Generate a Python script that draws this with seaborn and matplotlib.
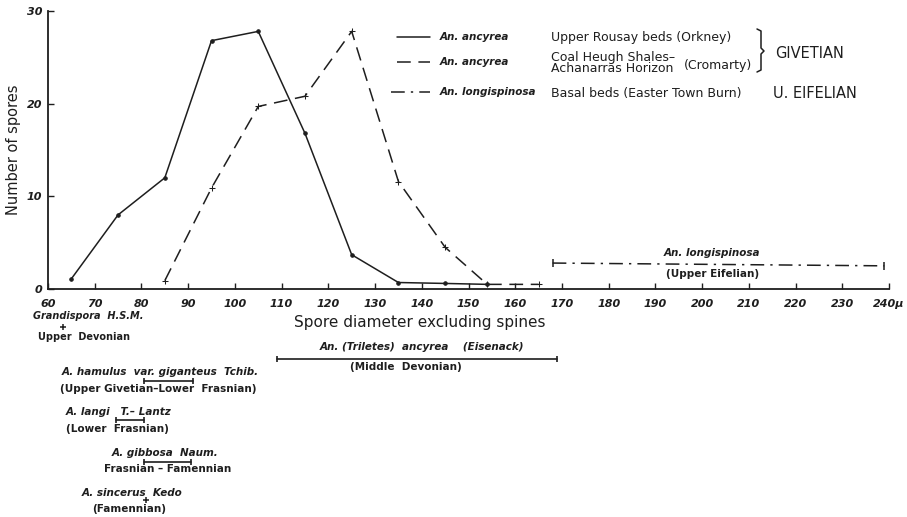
import numpy as np
import pandas as pd
import seaborn as sns
import matplotlib.pyplot as plt
from matplotlib.transforms import ScaledTranslation

# spore diameter (microns) and counts
rousay_x = [65, 75, 85, 95, 105, 115, 125, 135, 145, 154]
rousay_n = [1.1, 8, 12, 26.8, 27.8, 16.8, 3.7, 0.7, 0.6, 0.5]

cromarty_x = [85, 95, 105, 115, 125, 135, 145, 154, 165]
cromarty_n = [0.9, 10.9, 19.7, 20.8, 27.8, 11.6, 4.5, 0.5, 0.5]

longi_x = [168, 239]
longi_n = [2.8, 2.5]

x_ticks = list(range(60, 250, 10))
x_labels = [str(t) for t in x_ticks[:-1]] + ['240μ']
y_ticks = [0, 10, 20, 30]

# size ranges of other species shown below the axis
range_lo = [109, 80.5, 74.5, 80.5]
range_hi = [169, 91, 80.5, 90.5]
range_py = [359, 381, 420, 462]
point_x = [63.2, 81]
point_py = [327, 500]

INK = '#1e1e1e'
W, H = 907, 517


def fx(px):
    return px / W


def fy(py):
    return 1 - py / H


def ay(py):
    # pixel row -> axes fraction
    return (289 - py) / 278


sns.set_style("ticks")
plt.rcParams['font.family'] = ['DejaVu Sans']

fig = plt.figure(figsize=(9.07, 5.17), dpi=100)
ax = fig.add_axes([48 / W, 1 - 289 / H, 841 / W, 278 / H])

df1 = pd.DataFrame({"d": rousay_x, "n": rousay_n})
df2 = pd.DataFrame({"d": cromarty_x, "n": cromarty_n})
df3 = pd.DataFrame({"d": longi_x, "n": longi_n})

sns.lineplot(data=df1, x="d", y="n", ax=ax, color=INK, lw=1.1,
             marker='o', ms=2.5, mec=INK, estimator=None)
sns.lineplot(data=df2, x="d", y="n", ax=ax, color=INK, lw=1.1,
             marker='+', ms=4, mec=INK, estimator=None)
ax.lines[-1].set_dashes([9, 5])
sns.lineplot(data=df3, x="d", y="n", ax=ax, color=INK, lw=1.1,
             estimator=None)
ax.lines[-1].set_dashes([9, 4, 1.5, 4])
ax.plot(longi_x, longi_n, ls='none', marker='|', ms=6, mew=1.1, color=INK)

ax.set_xlim(60, 240)
ax.set_ylim(0, 30)
ax.set_xticks(x_ticks)
ax.set_yticks(y_ticks)
ax.set_xticklabels(x_labels, fontsize=8, style='italic', weight='bold',
                   color=INK)
ax.set_yticklabels([str(t) for t in y_ticks], fontsize=8, style='italic',
                   weight='bold', color=INK)
last = ax.get_xticklabels()[-1]
last.set_transform(last.get_transform() +
                   ScaledTranslation(0.04, 0, fig.dpi_scale_trans))
ax.tick_params(axis='x', direction='in', length=4, width=1, color=INK, pad=7)
ax.tick_params(axis='y', direction='in', length=4, width=1, color=INK, pad=4)
for s in ['top', 'right']:
    ax.spines[s].set_visible(False)
for s in ['left', 'bottom']:
    ax.spines[s].set_color(INK)
    ax.spines[s].set_linewidth(1.3)
ax.set_xlabel('')
ax.set_ylabel('Number of spores', fontsize=10.5, color=INK)
ax.yaxis.set_label_coords(-27 / 841, 0.5)

ax.text(139.5, ay(323), 'Spore diameter excluding spines', fontsize=11,
        color=INK, ha='center', va='center',
        transform=ax.get_xaxis_transform())

# legend
leg_rows = [37, 62, 92]
leg_left = [397, 397, 391]
leg_dash = [None, [9, 5], [9, 4, 1.5, 4]]
leg_names = ['An. ancyrea', 'An. ancyrea', 'An. longispinosa']
for py, x0, ds, name in zip(leg_rows, leg_left, leg_dash, leg_names):
    ln, = ax.plot([fx(x0), fx(430)], [fy(py), fy(py)], color=INK, lw=1.1,
                  transform=fig.transFigure, clip_on=False)
    if ds:
        ln.set_dashes(ds)
    fig.text(fx(440), fy(py), name, fontsize=7.5, style='italic',
             weight='bold', color=INK, va='center')

loc = dict(fontsize=9, color=INK, va='center')
fig.text(fx(551), fy(37), 'Upper Rousay beds (Orkney)', **loc)
fig.text(fx(551), fy(57), 'Coal Heugh Shales–', **loc)
fig.text(fx(551), fy(69), 'Achanarras Horizon', **loc)
fig.text(fx(684), fy(65), '(Cromarty)', **loc)
fig.text(fx(551), fy(93), 'Basal beds (Easter Town Burn)', **loc)
fig.text(fx(775), fy(53), 'GIVETIAN', fontsize=10.5, color=INK, va='center')
fig.text(fx(773), fy(93), 'U. EIFELIAN', fontsize=10.5, color=INK,
         va='center')
bx = [757, 761, 761, 764, 761, 761, 757]
by = [29, 31, 48, 51, 54, 70, 72]
ax.plot([fx(v) for v in bx], [fy(v) for v in by], color=INK, lw=1.1,
        transform=fig.transFigure, clip_on=False)

# longispinosa labels inside axes
fig.text(fx(712), fy(253), 'An. longispinosa', fontsize=7.5, style='italic',
         weight='bold', color=INK, ha='center', va='center')
fig.text(fx(713), fy(274), '(Upper Eifelian)', fontsize=7.5, weight='bold',
         color=INK, ha='center', va='center')

# range bars below the axis
xt = ax.get_xaxis_transform()
for lo, hi, py in zip(range_lo, range_hi, range_py):
    ax.plot([lo, hi], [ay(py), ay(py)], color=INK, lw=1.2, marker='|',
            ms=5, mew=1.2, transform=xt, clip_on=False)
for x, py in zip(point_x, point_py):
    ax.plot([x], [ay(py)], color=INK, marker='+', ms=4, mew=1.1,
            transform=xt, clip_on=False)

notes = [
    (33, 316, 'left', 'Grandispora  H.S.M.', 'italic', 7),
    (38, 337, 'left', 'Upper  Devonian', 'normal', 7),
    (422, 347, 'center', 'An. (Triletes)  ancyrea    (Eisenack)', 'italic', 7.5),
    (406, 367, 'center', '(Middle  Devonian)', 'normal', 7.5),
    (160, 372, 'center', 'A. hamulus  var. giganteus  Tchib.', 'italic', 7.5),
    (158, 389, 'center', '(Upper Givetian–Lower  Frasnian)', 'normal', 7.5),
    (119, 412, 'center', 'A. langi   T.– Lantz', 'italic', 7.5),
    (117, 429, 'center', '(Lower  Frasnian)', 'normal', 7.5),
    (165, 453, 'center', 'A. gibbosa  Naum.', 'italic', 7.5),
    (168, 469, 'center', 'Frasnian – Famennian', 'normal', 7.5),
    (132, 493, 'center', 'A. sincerus  Kedo', 'italic', 7.5),
    (129, 509, 'center', '(Famennian)', 'normal', 7.5),
]
for px, py, ha, s, st, fs in notes:
    fig.text(fx(px), fy(py), s, ha=ha, style=st, fontsize=fs, weight='bold',
             color=INK, va='center')

fig.savefig('out.png', dpi=100, facecolor='white')
